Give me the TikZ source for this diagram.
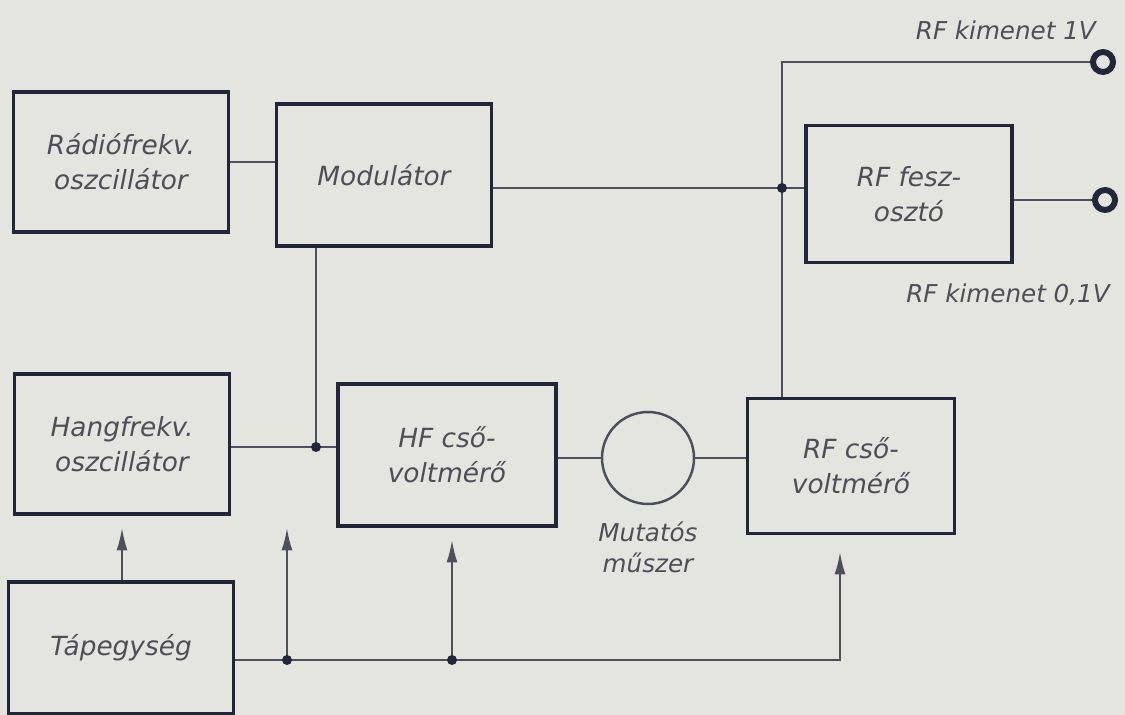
\documentclass[tikz,border=0pt]{standalone}
\usepackage{fontspec}
\setmainfont{DejaVu Sans}
\usetikzlibrary{positioning, arrows.meta}
\definecolor{paper}{HTML}{E5E5E0}
\definecolor{ink}{HTML}{22263A}
\definecolor{wirec}{HTML}{4C505C}
\definecolor{txt}{HTML}{4E4E58}
\newcommand\boxfont{\fontsize{15}{20}\selectfont\itshape}
\newcommand\lblfont{\fontsize{14}{18}\selectfont\itshape}

\begin{document}
\begin{tikzpicture}[
  x=0.02cm, y=-0.02cm,
  block/.style={draw=ink, line width=2.2pt, fill=paper, align=center,
                minimum width=4.3cm, minimum height=2.8cm,
                font=\boxfont, text=txt},
  meter/.style={circle, draw=wirec, line width=1.4pt, minimum size=1.84cm},
  term/.style={circle, draw=ink, line width=3.4pt, fill=paper,
               minimum size=4mm, inner sep=0pt},
  wire/.style={draw=wirec, line width=1.1pt},
  arr/.style={wire, -{Latex[length=4.5mm, width=2.2mm]}},
  lbl/.style={font=\lblfont, text=txt, align=center}
]
  \fill[paper] (0,0) rectangle (1125,715);
  \useasboundingbox (0,0) rectangle (1125,715);

  % Upper row
  \node[block] (rfosc) at (121,162) {Rádiófrekv.\\oszcillátor};
  \node[block, minimum height=2.84cm] (modul) at (384,175) {Modulátor};
  \node[block, minimum width=4.12cm, minimum height=2.74cm] (feszoszto) at (909,194) {RF fesz-\\osztó};

  % Output terminals
  \node[term] (out1) at (1103,62) {};
  \node[term] (out2) at (1105,200) {};
  \node[lbl, anchor=east] (lout1) at (1102,30) {RF kimenet 1V};
  \node[lbl] (lout2) at (1008,295) {RF kimenet 0,1V};

  % Middle row
  \node[block] (hfosc) at (122,444) {Hangfrekv.\\oszcillátor};
  \node[block, minimum width=4.36cm, minimum height=2.84cm] (hfvolt) at (447,455) {HF cső-\\voltmérő};
  \node[meter] (muszer) at (648,458) {};
  \node[lbl, below=2mm of muszer] (lmuszer) {Mutatós\\műszer};
  \node[block, minimum width=4.14cm, minimum height=2.7cm] (rfvolt) at (851,466) {RF cső-\\voltmérő};

  % Power supply
  \node[block, minimum width=4.5cm, minimum height=2.64cm] (tap) at (121,648) {Tápegység};

  % Junctions and free ends
  \coordinate (j1) at (782,188);
  \coordinate (j2) at (316,447);
  \coordinate (j3) at (287,660);
  \coordinate (j4) at (452,660);
  \coordinate (p1) at (287,528);
  \coordinate (p2) at (452,540);
  \coordinate (p3) at (840,552);

  % Connections
  \draw[wire] (rfosc.east) -- (rfosc.east -| modul.west);
  \draw[wire] (modul.east |- j1) -- (j1) -- (feszoszto.west |- j1);
  \draw[wire] (j1) |- (out1);
  \draw[wire] (feszoszto.east |- out2) -- (out2);
  \draw[wire] (j1) -- (j1 |- rfvolt.north);
  \draw[wire] (modul.south -| j2) -- (j2);
  \draw[wire] (hfosc.east |- j2) -- (j2) -- (hfvolt.west |- j2);
  \draw[wire] (muszer.west -| hfvolt.east) -- (muszer.west);
  \draw[wire] (muszer.east) -- (muszer.east -| rfvolt.west);

  % Supply lines
  \draw[arr] (tap.north -| hfosc.south) -- ([yshift=-2.4mm]hfosc.south);
  \draw[arr] (tap.east |- j3) -- (j3) -- (j4) -| (p3);
  \draw[arr] (j3) -- (p1);
  \draw[arr] (j4) -- (p2);

  \foreach \j in {j1,j2,j3,j4}
    \fill[ink] (\j) circle (1mm);
\end{tikzpicture}
\end{document}
